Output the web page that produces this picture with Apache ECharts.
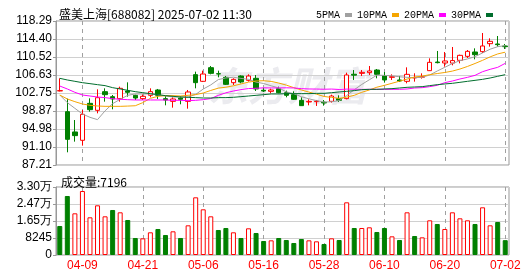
<!DOCTYPE html>
<html><head><meta charset="utf-8">
<script src="https://cdn.jsdelivr.net/npm/echarts@6/dist/echarts.min.js"></script>
<style>html,body{margin:0;padding:0;background:#fff}#c{width:530px;height:276px}</style>
</head><body><div id="c"></div>
<script>
const dates = ['04-03','04-07','04-08','04-09','04-10','04-11','04-14','04-15','04-16','04-17','04-18','04-21','04-22','04-23','04-24','04-25','04-28','04-29','04-30','05-06','05-07','05-08','05-09','05-12','05-13','05-14','05-15','05-16','05-19','05-20','05-21','05-22','05-23','05-26','05-27','05-28','05-29','05-30','06-03','06-04','06-05','06-06','06-09','06-10','06-11','06-12','06-13','06-16','06-17','06-18','06-19','06-20','06-23','06-24','06-25','06-26','06-27','06-30','07-01','07-02'];
const opens  = [103.2,98.72,94.34,92.54,100.52,99.01,103.04,101.96,101.53,103.18,102.25,101.53,102.25,103.4,101.53,100.95,101.67,100.95,106.71,105.27,108.22,106.92,106.13,104.98,106.42,105.48,105.92,103.33,103.11,103.69,102.82,102.39,101.17,100.81,100.88,100.74,100.95,101.53,101.53,106.8,106.99,107.14,107.71,106.49,106.13,105.56,105.27,106.0,106.15,107.57,109.44,109.23,109.2,109.8,110.66,111.6,111.67,113.4,113.33,112.9];
const closes = [103.26,92.75,93.55,98.15,99.15,101.74,102.39,101.46,103.76,102.9,101.67,102.03,103.04,102.25,101.24,101.46,101.39,102.97,104.98,106.85,106.99,106.85,104.62,105.7,105.12,106.42,103.62,103.18,103.4,102.82,102.25,101.39,100.02,100.95,100.98,100.6,102.1,101.17,106.64,106.6,107.21,107.5,106.78,105.56,106.28,105.34,106.78,106.1,106.3,109.37,109.3,109.66,109.75,110.88,111.74,111.02,112.9,113.9,113.18,112.75];
const highs  = [105.92,101.53,96.92,99.08,101.6,103.54,103.76,102.32,104.12,105.05,102.39,102.46,103.76,103.62,102.1,101.82,102.1,103.4,107.36,107.57,108.58,107.57,106.42,105.92,106.56,106.78,106.64,103.83,103.69,104.12,103.26,103.11,101.82,101.39,101.24,101.24,102.39,102.25,107.14,107.71,107.71,108.58,107.93,107.28,106.78,106.42,108.29,107.0,106.99,110.23,111.82,111.6,112.68,111.02,112.03,112.39,115.7,114.55,115.05,113.33];
const lows   = [103.1,89.95,92.25,91.39,98.72,98.36,100.88,99.23,100.88,101.96,101.24,101.24,101.82,101.46,100.09,99.59,100.31,99.37,103.76,105.12,106.78,106.13,104.48,104.48,104.84,105.2,103.18,102.97,102.68,102.68,101.82,101.24,99.95,100.09,99.95,100.02,100.67,100.81,101.39,105.56,106.42,106.64,105.92,104.98,105.56,105.12,104.84,105.2,105.85,107.5,109.15,108.43,108.72,109.15,110.31,110.02,111.38,112.75,112.75,112.25];
const prevClose = 104.5;
const ma5  = [102.32,100.67,99.44,98.22,97.5,97.0,98.9,100.45,101.39,102.25,102.54,102.54,102.54,102.39,102.1,101.89,101.89,101.9,102.45,103.6,104.5,105.65,106.0,106.15,105.9,105.7,105.1,104.8,104.3,103.85,103.0,102.6,101.95,101.5,101.1,100.8,100.85,101.1,102.2,103.45,104.6,105.6,106.6,106.55,106.45,106.25,106.13,106.05,106.13,106.64,107.5,108.3,109.1,109.73,110.1,110.6,111.4,112.2,112.75,112.97];
const ma10 = [102.32,101.46,100.88,100.38,100.09,99.95,99.87,99.87,99.87,99.93,100.0,100.67,101.6,102.03,102.18,102.18,102.1,102.25,102.39,102.75,103.3,103.8,104.0,104.3,104.7,105.1,105.35,105.4,105.25,104.9,104.45,103.9,103.4,102.95,102.5,102.0,101.8,101.6,101.85,102.25,102.9,103.4,104.0,104.4,104.85,105.3,105.75,106.2,106.4,106.7,106.95,107.18,107.48,107.92,108.48,109.12,109.8,110.55,111.18,111.56];
const ma20 = [104.26,103.62,102.9,102.32,102.1,101.89,101.75,101.53,101.39,101.31,101.24,101.24,101.24,101.24,101.24,101.17,101.17,101.1,101.17,101.31,101.54,102.24,102.8,103.18,103.48,103.71,103.77,103.86,103.84,103.84,103.87,103.84,103.69,103.62,103.6,103.56,103.6,103.51,103.59,103.58,103.54,103.54,103.54,103.54,103.54,103.54,103.62,103.83,103.9,104.12,104.41,104.98,105.34,105.77,106.13,106.56,107.35,107.86,108.29,109.15];
const ma30 = [105.92,105.56,105.27,104.98,104.77,104.55,104.34,103.9,103.62,103.33,103.04,102.82,102.61,102.39,102.18,102.03,101.89,101.82,101.75,101.67,101.67,101.75,101.75,101.82,101.96,102.1,102.25,102.39,102.54,102.54,102.61,102.61,102.61,102.61,102.68,102.68,102.82,102.97,103.11,103.26,103.47,103.54,103.54,103.62,103.69,103.83,103.98,104.05,104.12,104.34,104.55,104.7,104.84,105.05,105.27,105.48,105.7,105.99,106.35,106.71];
const volumes = [14068,28620,20213,31046,18272,24093,18757,21830,20698,16979,8247,8085,10996,12613,9702,11481,8247,14391,27974,22153,18757,12128,13098,10996,8247,12936,10672,6791,7115,8247,7277,5821,7762,7115,6630,5336,8085,7277,25549,13098,13098,13421,11157,13098,9055,7277,20698,9217,8570,16817,15038,12613,20698,17787,16817,15038,23123,14391,16008,7196];
const priceTicks = ['87.21','91.10','94.98','98.87','102.75','106.63','110.52','114.40','118.29'];
const priceMin = 87.21, priceMax = 118.29;
const volMax = 32980, volStep = 8245;
const titleText = '盛美上海[688082] 2025-07-02 11:30';
const volLabel = '成交量:7196';
const maNames = ['5PMA','10PMA','20PMA','30PMA'];

const RED = '#ff0000', GREEN = '#008000';
const MA_COLORS = ['#a0a0a0','#f5a500','#ff00ff','#006d2d'];
const DASH = '#a0a0a0';
const labelIdx = (i) => i % 8 === 3;
const markIdx = dates.map((d,i)=>i).filter(labelIdx);

const candle = dates.map((d,i) => [opens[i], closes[i], lows[i], highs[i]]);
const volData = volumes.map((v,i) => {
  const pc = i === 0 ? prevClose : closes[i-1];
  const up = closes[i] >= pc;
  return { value: v, itemStyle: up ? {color:'#fff', borderColor:RED, borderWidth:1} : {color:GREEN, borderColor:GREEN, borderWidth:1} };
});

const chart = echarts.init(document.getElementById('c'));
const axisFont = {fontFamily:'Liberation Sans, Arial, sans-serif', fontSize:12, color:'#000'};
const gridLine = {show:true, lineStyle:{color:'#d0d0d0', width:1, type:'solid'}};
const vDash = () => ({show:true, interval:(i)=>labelIdx(i), alignWithLabel:true,
  lineStyle:{color:DASH, type:[4,4], width:1}});

chart.setOption({
  animation:false,
  title:[
    {text:titleText, left:54, top:3, textStyle:{fontSize:12, fontWeight:'normal', color:'#000', fontFamily:'Noto Sans CJK SC'}},
    {text:volLabel, left:56, top:171, textStyle:{fontSize:12, fontWeight:'normal', color:'#000', fontFamily:'Noto Sans CJK SC'}}
  ],
  legend:{
    right:32, top:5, align:'right', itemWidth:7, itemHeight:4, itemGap:5,
    icon:'rect',
    textStyle:{fontFamily:'Liberation Mono, monospace', fontSize:10, color:'#000'},
    data: maNames.map((n,i)=>({name:n, itemStyle:{color:MA_COLORS[i]}}))
  },
  graphic:[{
    type:'text', left:208, top:66, silent:true,
    style:{text:'东方财富', font:'italic bold 40px "Noto Sans CJK SC"', fill:'#ebebef'}
  }],
  grid:[
    {left:56, right:21, top:21, height:144, show:true, borderColor:'#999', borderWidth:1},
    {left:56, right:21, top:187, height:68, show:true, borderColor:'#999', borderWidth:1}
  ],
  xAxis:[
    {type:'category', gridIndex:0, data:dates,
     axisLine:{show:false}, axisTick:{show:false}, axisLabel:{show:false}, splitLine:vDash()},
    {type:'category', gridIndex:1, data:dates,
     axisLine:{show:false}, axisTick:{show:false},
     axisLabel:{interval:(i)=>labelIdx(i), color:RED, fontFamily:'Liberation Sans, Arial', fontSize:12, margin:5},
     splitLine:vDash()}
  ],
  yAxis:[
    {type:'value', gridIndex:0, position:'left', min:priceMin, max:priceMax, show:false, splitLine:{show:false}},
    {type:'value', gridIndex:0, position:'left', min:0, max:priceTicks.length-1, interval:1,
     axisLine:{show:true, lineStyle:{color:'#999'}}, axisTick:{show:true, length:3, lineStyle:{color:'#999'}},
     axisLabel:Object.assign({formatter:(v)=>priceTicks[Math.round(v)], margin:4}, axisFont),
     splitLine:gridLine},
    {type:'value', gridIndex:1, position:'left', min:0, max:volMax, interval:volStep,
     axisLine:{show:true, lineStyle:{color:'#999'}}, axisTick:{show:true, length:3, lineStyle:{color:'#999'}},
     axisLabel:Object.assign({margin:4, formatter:(v)=> v>=10000 ? (v/10000).toFixed(2)+'万' : String(v)}, axisFont),
     splitLine:gridLine}
  ],
  series:[
    {type:'candlestick', xAxisIndex:0, yAxisIndex:0, data:candle, barWidth:5, z:2,
     itemStyle:{color:'#fff', color0:GREEN, borderColor:RED, borderColor0:GREEN, borderWidth:1}},
    ...[ma5,ma10,ma20,ma30].map((arr,k)=>({
      type:'line', name:maNames[k], xAxisIndex:0, yAxisIndex:0, data:arr, symbol:'none', smooth:false,
      lineStyle:{color:MA_COLORS[k], width:1}, itemStyle:{color:MA_COLORS[k]}, z:3
    })),
    {type:'bar', xAxisIndex:1, yAxisIndex:2, data:volData, barWidth:5, z:2}
  ]
});
</script></body></html>
